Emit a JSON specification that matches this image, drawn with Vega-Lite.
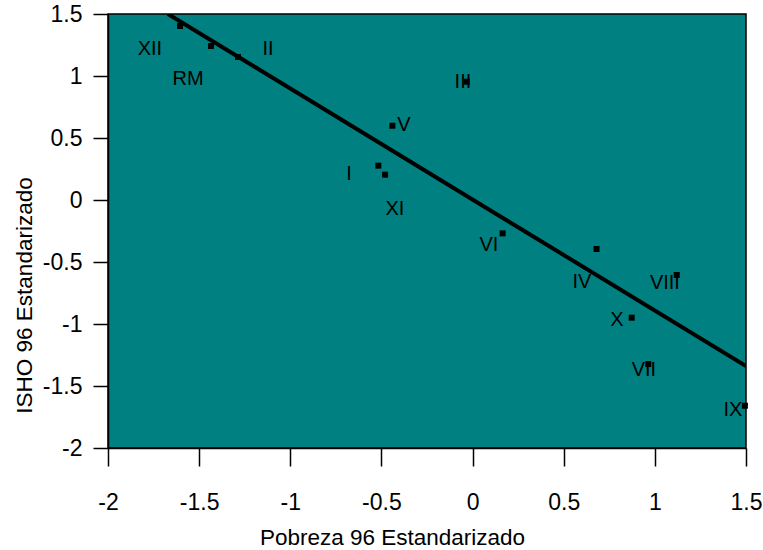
{
  "$schema": "https://vega.github.io/schema/vega-lite/v6.json",
  "width": 638,
  "height": 434,
  "autosize": {"type": "none"},
  "padding": {"left": 108, "top": 14, "right": 17, "bottom": 102},
  "background": "white",
  "config": {
    "view": {"fill": "#008080", "stroke": "black", "strokeWidth": 1.5},
    "font": "Liberation Sans"
  },
  "datasets": {
    "regions": [
      {"region": "XII", "pobreza": -1.605, "isho": 1.403, "lx": -1.770, "ly": 1.218},
      {"region": "RM", "pobreza": -1.435, "isho": 1.242, "lx": -1.561, "ly": 0.976},
      {"region": "II", "pobreza": -1.287, "isho": 1.153, "lx": -1.122, "ly": 1.218},
      {"region": "III", "pobreza": -0.032, "isho": 0.954, "lx": -0.053, "ly": 0.952},
      {"region": "V", "pobreza": -0.44, "isho": 0.599, "lx": -0.376, "ly": 0.605},
      {"region": "I", "pobreza": -0.517, "isho": 0.277, "lx": -0.678, "ly": 0.210},
      {"region": "XI", "pobreza": -0.48, "isho": 0.204, "lx": -0.426, "ly": -0.073},
      {"region": "VI", "pobreza": 0.165, "isho": -0.269, "lx": 0.090, "ly": -0.363},
      {"region": "IV", "pobreza": 0.68, "isho": -0.395, "lx": 0.600, "ly": -0.661},
      {"region": "VIII", "pobreza": 1.12, "isho": -0.605, "lx": 1.055, "ly": -0.669},
      {"region": "X", "pobreza": 0.873, "isho": -0.949, "lx": 0.792, "ly": -0.968},
      {"region": "VII", "pobreza": 0.964, "isho": -1.323, "lx": 0.940, "ly": -1.371},
      {"region": "IX", "pobreza": 1.494, "isho": -1.659, "lx": 1.428, "ly": -1.694}
    ],
    "fit": [
      {"pobreza": -1.671, "isho": 1.5},
      {"pobreza": 1.5, "isho": -1.339}
    ]
  },
  "layer": [
    {
      "data": {"name": "fit"},
      "mark": {"type": "line", "color": "black", "strokeWidth": 4, "clip": true},
      "encoding": {
        "x": {
          "field": "pobreza", "type": "quantitative",
          "scale": {"domain": [-2, 1.5], "nice": false, "zero": false},
          "axis": {
            "title": "Pobreza 96 Estandarizado",
            "titleFont": "Liberation Sans", "titleFontSize": 22.5, "titleFontWeight": "normal", "titleColor": "black",
            "titleX": 284, "titleY": 96, "titleAnchor": null, "titleAlign": "center", "titleBaseline": "alphabetic",
            "values": [-2, -1.5, -1, -0.5, 0, 0.5, 1, 1.5],
            "labelExpr": "'' + datum.value",
            "labelFont": "Liberation Sans", "labelFontSize": 23, "labelColor": "black",
            "labelPadding": 25, "labelFlush": false, "labelOverlap": false,
            "tickSize": 18, "tickColor": "black", "tickWidth": 1.5,
            "domainColor": "black", "domainWidth": 1.5, "grid": false
          }
        },
        "y": {
          "field": "isho", "type": "quantitative",
          "scale": {"domain": [-2, 1.5], "nice": false, "zero": false},
          "axis": {
            "title": "ISHO 96 Estandarizado",
            "titleFont": "Liberation Sans", "titleFontSize": 22.5, "titleFontWeight": "normal", "titleColor": "black",
            "titleX": -84, "titleY": 281, "titleAngle": -90, "titleAlign": "center", "titleBaseline": "middle",
            "values": [-2, -1.5, -1, -0.5, 0, 0.5, 1, 1.5],
            "labelExpr": "'' + datum.value",
            "labelFont": "Liberation Sans", "labelFontSize": 23, "labelColor": "black",
            "labelPadding": 11, "labelFlush": false, "labelOverlap": false,
            "tickSize": 15, "tickColor": "black", "tickWidth": 1.5,
            "domainColor": "black", "domainWidth": 1.5, "grid": false
          }
        }
      }
    },
    {
      "data": {"name": "regions"},
      "mark": {"type": "square", "color": "black", "filled": true, "size": 36, "opacity": 1},
      "encoding": {
        "x": {"field": "pobreza", "type": "quantitative"},
        "y": {"field": "isho", "type": "quantitative"}
      }
    },
    {
      "data": {"name": "regions"},
      "mark": {"type": "text", "color": "black", "font": "Liberation Sans", "fontSize": 20, "align": "center", "baseline": "middle"},
      "encoding": {
        "x": {"field": "lx", "type": "quantitative"},
        "y": {"field": "ly", "type": "quantitative"},
        "text": {"field": "region"}
      }
    }
  ]
}
